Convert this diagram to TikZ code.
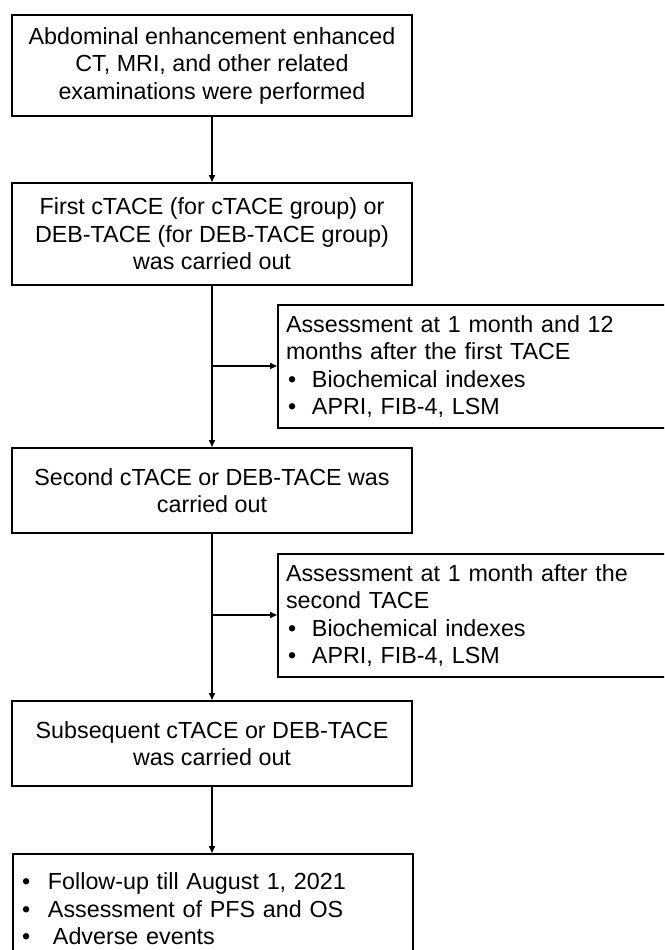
\documentclass[tikz,border=0pt]{standalone}
\usepackage{fontspec}
\setmainfont{Liberation Sans}
\usetikzlibrary{arrows.meta}
\newcommand{\blt}[1]{\hspace*{2pt}\makebox[24pt][l]{\textbullet}#1}
\newcommand{\bltb}[1]{\makebox[26pt][l]{\textbullet}#1}
\begin{document}
\begin{tikzpicture}[x=1pt,y=-1pt,
  txt/.style={font=\fontsize{23.3}{27.5}\selectfont},
  box/.style={txt,draw,line width=2pt,rectangle,inner sep=0pt,align=center,minimum width=400},
  side/.style={txt,draw,line width=2pt,rectangle,inner xsep=8pt,inner ysep=0pt,align=left,anchor=west,text width=377,minimum height=123},
  conn/.style={line width=1.6pt,-{Triangle[length=7pt,width=6pt]}}]
\useasboundingbox (0,0) rectangle (664,950);
\clip (0,0) rectangle (664,950);
\node[box,minimum height=101] (b1) at (212,65.5) {Abdominal enhancement enhanced\\CT, MRI, and other related\\examinations were performed};
\node[box,minimum height=102] (b2) at (212,234) {First cTACE (for cTACE group) or\\DEB-TACE (for DEB-TACE group)\\was carried out};
\node[side] (s1) at (277,366.5) {Assessment at 1 month and 12\\months after the first TACE\\\blt{Biochemical indexes}\\\blt{APRI, FIB-4, LSM}};
\node[box,minimum height=85] (b3) at (212,490.5) {Second cTACE or DEB-TACE was\\carried out};
\node[side] (s2) at (277,615.5) {Assessment at 1 month after the\\second TACE\\\blt{Biochemical indexes}\\\blt{APRI, FIB-4, LSM}};
\node[box,minimum height=85] (b4) at (212,743.5) {Subsequent cTACE or DEB-TACE\\was carried out};
\node[txt,draw,line width=2pt,rectangle,anchor=north west,inner xsep=9pt,inner ysep=11pt,align=left,text width=382,minimum height=110] (b5) at (12,853) {\bltb{Follow-up till August 1, 2021}\\\bltb{Assessment of PFS and OS}\\\bltb{\hspace{5pt}Adverse events}};
\coordinate (j1) at (212,366);
\coordinate (j2) at (212,615);
\draw[conn] (b1) -- (b2);
\draw[conn] (b2) -- (b3);
\draw[conn] (j1) -- (j1 -| s1.west);
\draw[conn] (b3) -- (b4);
\draw[conn] (j2) -- (j2 -| s2.west);
\draw[conn] (b4) -- (b5.north -| b4.south);
\end{tikzpicture}
\end{document}
